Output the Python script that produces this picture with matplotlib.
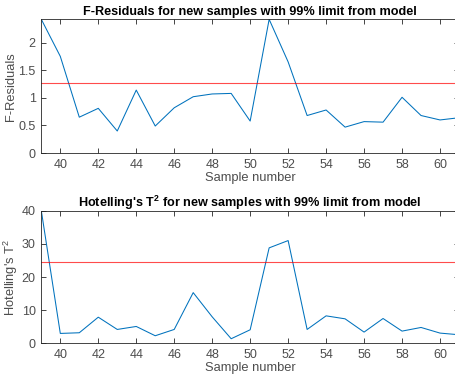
import matplotlib
matplotlib.use('Agg')
import matplotlib.pyplot as plt

# sample numbers of the new samples
samples = list(range(39, 62))

f_resid = [2.42, 1.75, 0.65, 0.81, 0.40, 1.14, 0.49, 0.82, 1.02, 1.07, 1.08, 0.58,
           2.42, 1.65, 0.68, 0.78, 0.47, 0.57, 0.56, 1.01, 0.68, 0.60, 0.64]
f_limit = 1.27

t2 = [40.0, 3.0, 3.2, 7.9, 4.2, 5.1, 2.3, 4.2, 15.3, 8.0, 1.4, 4.1,
      28.8, 31.0, 4.2, 8.3, 7.4, 3.4, 7.5, 3.7, 4.8, 3.1, 2.6]
t2_limit = 24.4

xticks = list(range(40, 61, 2))

plt.rcParams['font.family'] = ['Liberation Sans', 'DejaVu Sans']
plt.rcParams['mathtext.fontset'] = 'custom'
plt.rcParams['mathtext.rm'] = 'Liberation Sans'
plt.rcParams['mathtext.bf'] = 'Liberation Sans:bold'

blue = (0, 0.447, 0.741)
axcol = (0.15, 0.15, 0.15)
txtcol = (0.3, 0.3, 0.3)

fig = plt.figure(figsize=(4.56, 3.79), dpi=100)
ax1 = fig.add_axes([0.0906, 0.596, 0.916, 0.353])
ax2 = fig.add_axes([0.0906, 0.094, 0.916, 0.350])


def style(ax):
    ax.set_xlim(39, 61)
    ax.set_xticks(xticks)
    ax.tick_params(direction='in', top=True, right=True, length=3.5, width=0.6,
                   labelsize=9, colors=axcol, labelcolor=txtcol, pad=4)
    for s in ax.spines.values():
        s.set_color(axcol)
        s.set_linewidth(0.6)
    ax.set_xlabel('Sample number', fontsize=9.3, color=txtcol, labelpad=1)


ax1.plot(samples, f_resid, color=blue, lw=0.75)
ax1.axhline(f_limit, color='red', lw=0.8, alpha=0.7)
ax1.set_ylim(0, 2.42)
ax1.set_yticks([0, 0.5, 1, 1.5, 2])
ax1.set_yticklabels(['0', '0.5', '1', '1.5', '2'])
style(ax1)
ax1.set_ylabel('F-Residuals', fontsize=9.3, color=txtcol, labelpad=1)
ax1.set_title('F-Residuals for new samples with 99% limit from model',
              fontsize=9.1, fontweight='bold', pad=3)

ax2.plot(samples, t2, color=blue, lw=0.75)
ax2.axhline(t2_limit, color='red', lw=0.8, alpha=0.7)
ax2.set_ylim(0, 40)
ax2.set_yticks([0, 10, 20, 30, 40])
style(ax2)
ax2.set_ylabel("Hotelling's T$^2$", fontsize=9.3, color=txtcol, labelpad=1)
ax2.set_title("Hotelling's T$^\\mathbf{2}$ for new samples with 99% limit from model",
              fontsize=9.1, fontweight='bold', pad=3)

fig.savefig('out.png', dpi=100)
